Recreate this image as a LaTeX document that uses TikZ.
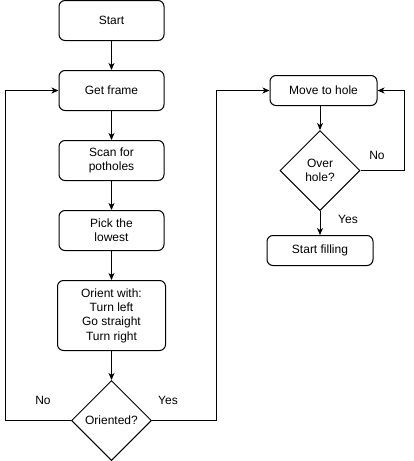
\documentclass[tikz,border=0pt]{standalone}
\usepackage{fontspec}
\setmainfont{Liberation Sans}
\usetikzlibrary{arrows.meta,positioning,shapes.geometric}

\tikzset{
  box/.style={draw, rounded corners=6pt, minimum width=105pt, minimum height=40pt, align=center, inner sep=2pt},
  decision/.style={draw, diamond, aspect=1, minimum width=80pt, minimum height=80pt, inner sep=0pt, align=center},
  arr/.style={-{Stealth[length=7pt,width=6pt,inset=2pt]}},
  lbl/.style={inner sep=0pt}
}

\begin{document}
\begin{tikzpicture}[x=1pt,y=-1pt,line width=1pt,node distance=29pt,font=\fontsize{12pt}{14.4pt}\selectfont]
    \useasboundingbox (0,0) rectangle (414,461);
    \node (start) [box] at (111.5,20.5) {Start};
    \node (frame) [box,below=of start] {Get frame};
    \node (scan) [box,below=of frame] {Scan for\\potholes};
    \node (pick) [box,below=of scan] {Pick the\\lowest};
    \node (orient) [box,minimum width=108pt,minimum height=70pt,below=of pick] {Orient with:\\Turn left\\Go straight\\Turn right};
    \node (oriented) [decision,below=of orient] {Oriented?};
    \node (move) [box,minimum width=107pt,minimum height=30pt] at (323.5,90.5) {Move to hole};
    \node (over) [decision,below=24pt of move,xshift=-3.5pt] {Over\\hole?};
    \node (fill) [box,minimum width=106pt,minimum height=30pt,below=24pt of over] {Start filling};
    \node (no1) [lbl] at (43,400) {No};
    \node (yes1) [lbl] at (168,400) {Yes};
    \node (no2) [lbl] at (377,155) {No};
    \node (yes2) [lbl] at (348,219) {Yes};
    \path[arr] (start) edge (frame);
    \path[arr] (frame) edge (scan);
    \path[arr] (scan) edge (pick);
    \path[arr] (pick) edge (orient);
    \path[arr] (orient) edge (oriented);
    \path[arr] (move.south -| over) edge (over);
    \path[arr] (over) edge (fill);
    \draw[arr] (oriented.west) -- ++(-66pt,0) |- (frame.west);
    \draw[arr] (oriented.east) -- ++(64pt,0) |- (move.west);
    \draw[arr] (over.east) -- ++(44pt,0) |- (move.east);
\end{tikzpicture}
\end{document}
